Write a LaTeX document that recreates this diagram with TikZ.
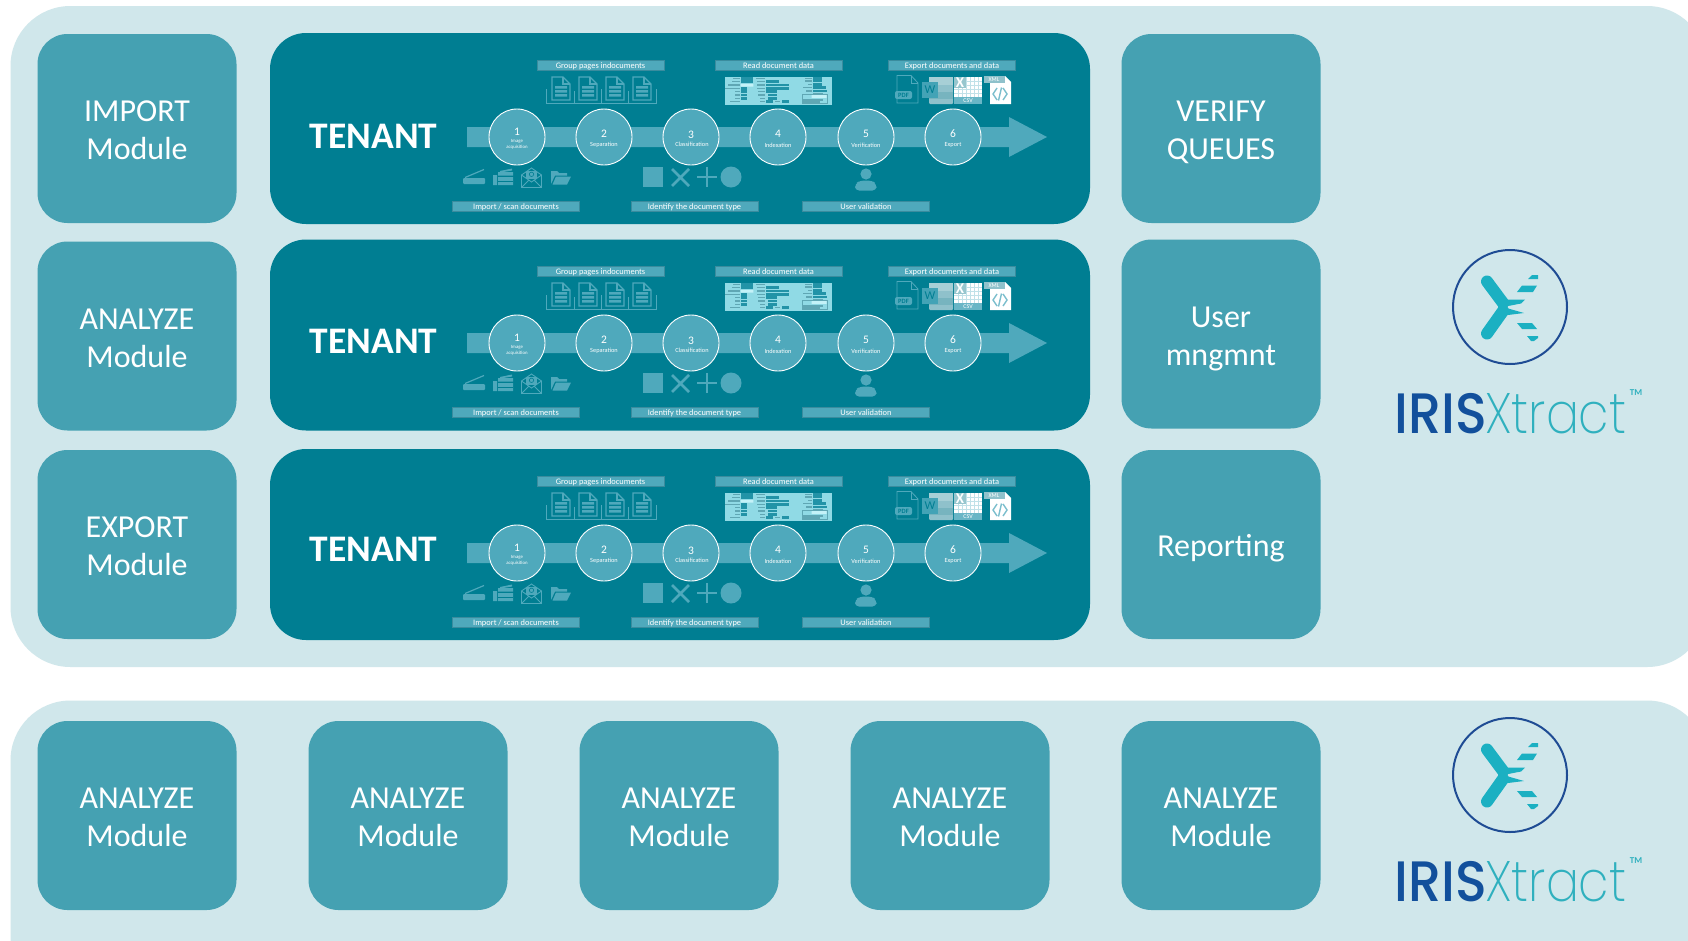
\documentclass[tikz,border=0pt]{standalone}
\usepackage{fontspec}
\setmainfont{Carlito}
\newfontfamily\logofont{Poppins Medium}
\newfontfamily\logolight{Poppins ExtraLight}
\definecolor{panelc}{HTML}{D0E7EB}
\definecolor{modc}{HTML}{45A1B2}
\definecolor{tenc}{HTML}{007E92}
\definecolor{barc}{HTML}{4FA9BC}
\definecolor{edgec}{HTML}{3A8C9E}
\definecolor{formc}{HTML}{90DAE5}
\definecolor{formd}{HTML}{0F879C}
\definecolor{forml}{HTML}{C4F2F8}
\definecolor{formg}{HTML}{5FA7B4}
\definecolor{logob}{HTML}{1F4C94}
\definecolor{irisc}{HTML}{12509C}
\definecolor{xtrc}{HTML}{2FB0BE}
\definecolor{markc}{HTML}{1BB0C2}
\newcommand\modtxt[2]{\strut #1\\\strut #2}
\tikzset{
  modbox/.style={fill=modc,rounded corners=30pt,minimum width=199pt,minimum height=189pt,inner sep=0pt},
  modtext/.style={text=white,align=center,inner sep=0pt,yshift=-4.5pt,font=\fontsize{32}{38}\selectfont},
  tenbox/.style={fill=tenc,rounded corners=36pt,minimum width=820pt,minimum height=191pt,inner sep=0pt},
  tentitle/.style={text=white,inner sep=0pt,font=\fontsize{37.5}{40}\selectfont\bfseries},
  stepc/.style={circle,fill=barc,draw=white,line width=.9pt,minimum size=56pt,inner sep=0pt},
  stepnum/.style={text=white,inner sep=0pt,font=\fontsize{11.5}{12}\selectfont},
  steptxt/.style={text=white,inner sep=0pt,align=center,font=\fontsize{6.3}{6.5}\selectfont},
  tagbox/.style={fill=barc,draw=edgec,line width=.6pt,minimum width=127pt,minimum height=10pt,inner sep=0pt,
    text=white,text height=6.5pt,text depth=.5pt,font=\fontsize{8.4}{9}\selectfont},
  iconl/.style={draw=barc,line width=.9pt,fill=none},
  brack/.style={draw=barc,line width=.5pt,fill=none},
}
% page icon with folded corner
\newcommand\docicon[1]{%
  \begin{scope}[shift={(#1,77)}]
    \draw[iconl,line width=1.3pt] (0,0) -- (11,0) -- (18,7) -- (18,23) -- (0,23) -- cycle;
    \draw[iconl,line width=1.3pt] (11,0) -- (11,7) -- (18,7);
    \fill[barc] (3,9) rectangle (15,11.5) (3,13) rectangle (15,15.5) (3,17) rectangle (15,19.5);
  \end{scope}}
\newcommand\tenantrow[2]{%
\begin{scope}[shift={(0,#2)}]
  % arrow
  \fill[barc] (467,127) -- (1009,127) -- (1009,117) -- (1047,137) -- (1009,157) -- (1009,147) -- (467,147) -- cycle;
  % steps
  \node[stepc] (#1s1) at (517,137) {};
  \node[stepc] (#1s2) at (604,137) {};
  \node[stepc] (#1s3) at (691,137) {};
  \node[stepc] (#1s4) at (778,137) {};
  \node[stepc] (#1s5) at (866,137) {};
  \node[stepc] (#1s6) at (953,137) {};
  \node[stepnum] (#1n1) at (517,131.5) {1};
  \node[stepnum] (#1n2) at (604,133.5) {2};
  \node[stepnum] (#1n3) at (691,134.5) {3};
  \node[stepnum] (#1n4) at (778,133.5) {4};
  \node[stepnum] (#1n5) at (866,133.5) {5};
  \node[stepnum] (#1n6) at (953,133.5) {6};
  \node[steptxt,font=\fontsize{4.8}{6}\selectfont] (#1t1) at (517,144.5) {Image\\acquisition};
  \node[steptxt] (#1t2) at (604,145) {Separation};
  \node[steptxt] (#1t3) at (692,144) {Classification};
  \node[steptxt] (#1t4) at (778,145) {Indexation};
  \node[steptxt] (#1t5) at (866,145) {Verification};
  \node[steptxt] (#1t6) at (953,145) {Export};
  % tags
  \node[tagbox] (#1g1) at (600.5,65) {Group pages indocuments};
  \node[tagbox] (#1g2) at (778.5,65) {Read document data};
  \node[tagbox] (#1g3) at (952,65) {Export documents and data};
  \node[tagbox] (#1g4) at (516,206) {Import / scan documents};
  \node[tagbox] (#1g5) at (694.5,206) {Identify the document type};
  \node[tagbox] (#1g6) at (866,206) {User validation};
  % pages
  \docicon{552}\docicon{579}\docicon{606}\docicon{633}
  \draw[brack] (546.5,89) -- (546.5,103.5) -- (656.5,103.5) -- (656.5,89);
  \draw[brack] (574,91) -- (574,103.5) (601,89) -- (601,103.5) (628,91) -- (628,103.5);
  % form
  \fill[formc] (725,77) rectangle (832,105);
  \foreach \a/\b/\c in {40/60/25,35/60/35,25/60/45,15/60/55,45/60/65,45/60/75,45/60/85,30/60/95,108/135/25,110/135/35,110/135/45,110/135/55,115/135/65,115/135/75,120/135/85,120/135/95,165/180/95,255/275/25,255/275/33,265/275/43,250/275/53,258/275/63,280/310/72,248/310/90,248/300/96}
    {\fill[formg] (720+\a/3,70+\c/3-.6) rectangle (720+\b/3,70+\c/3+.6);}
  \foreach \a/\b/\c in {62/100/25,62/100/35,62/82/56,62/82/65,62/82/75,62/82/85,138/178/35,138/208/45,138/208/55,138/170/65,143/170/75,143/170/85,138/160/95,185/208/95,280/305/25,280/305/33,280/305/43,280/318/53,280/322/63}
    {\fill[formd!85!formc] (720+\a/3,70+\c/3-1.2) rectangle (720+\b/3,70+\c/3+1.2);}
  \fill[forml] (740.7,84) rectangle (753.3,86.6) (811.7,95) rectangle (826.7,97.8);
  \draw[formg,line width=.3pt] (801.7,94) rectangle (827.3,103.3);
  % export icons
  \draw[iconl,line width=.8pt] (897,75.5) -- (911,75.5) -- (918,83) -- (918,103) -- (897,103) -- cycle;
  \draw[iconl,line width=.8pt] (911,75.5) -- (911,83) -- (918,83);
  \node[fill=barc,rounded corners=2pt,minimum width=17pt,minimum height=8pt,inner sep=0pt,text=tenc,font=\fontsize{6.5}{7}\selectfont\bfseries] (#1pdf) at (903.5,95) {PDF};
  \fill[rounded corners=1pt,fill=formg!70!white] (929,77) rectangle (953,104);
  \fill[fill=formg!55!white] (929,77) rectangle (953,85);
  \fill[fill=formg!85!white] (929,92) rectangle (953,99);
  \node[fill=barc!85!tenc,minimum width=16pt,minimum height=16pt,inner sep=0pt,text=tenc,font=\fontsize{12}{12}\selectfont] (#1word) at (930,90) {W};
  \fill[white] (954,77) rectangle (982,104);
  \foreach \gx in {958,962,...,980} {\draw[barc!35!white,line width=.25pt] (\gx,77) -- (\gx,97);}
  \foreach \gy in {81,85,...,96} {\draw[barc!35!white,line width=.25pt] (954,\gy) -- (982,\gy);}
  \fill[fill=formg!65!white] (954,77) rectangle (966,88);
  \node[text=white,inner sep=0pt,font=\fontsize{15}{15}\selectfont\bfseries] (#1xl) at (960,83) {X};
  \node[fill=barc!85!white,minimum width=28pt,minimum height=7pt,inner sep=0pt,text=white,font=\fontsize{6}{6}\selectfont] (#1csv) at (968,100.5) {CSV};
  \fill[white] (990,76) -- (1005,76) -- (1011,82) -- (1011,104) -- (990,104) -- cycle;
  \node[fill=formg!70!white,minimum width=21pt,minimum height=7pt,inner sep=0pt,text=white,font=\fontsize{6}{6}\selectfont] (#1xml) at (994,79.5) {XML};
  \draw[barc!75!white,line width=1.4pt] (997,88) -- (993,94) -- (997,100) (1003,88) -- (1007,94) -- (1003,100) (1001.5,87.5) -- (998.5,100.5);
  % source icons
  \fill[barc,rounded corners=1pt] (463,178) rectangle (485,184);
  \draw[barc,line width=1.2pt] (465,177.5) -- (484,169.5);
  \fill[barc] (493,175) rectangle (497,185) (498,172) rectangle (513,175.5) (498,177) rectangle (513,185);
  \fill[barc] (500,171) -- (512,168.5) -- (512,170.5) -- (500,172.5) -- cycle;
  \draw[tenc,line width=.5pt] (498,181) -- (513,181);
  \draw[iconl,line width=.9pt] (521.5,175) -- (531.5,168) -- (541.5,175) -- (541.5,187.5) -- (521.5,187.5) -- cycle;
  \draw[iconl,line width=.9pt] (521.5,175) -- (531.5,182) -- (541.5,175) (521.5,187.5) -- (529,180) (541.5,187.5) -- (534,180);
  \fill[barc] (526,170.5) rectangle (537,178.5);
  \draw[tenc,line width=.6pt] (531.5,174.3) circle (2.2pt);
  \fill[barc] (551,171) -- (557,171) -- (559,173) -- (567,173) -- (567,175.5) -- (555,175.5) -- (551,184) -- cycle;
  \fill[barc] (556,176.5) -- (571,176.5) -- (567,184.5) -- (552.5,184.5) -- cycle;
  % type icons
  \fill[barc] (643,167) rectangle (663,187);
  \draw[barc,line width=2.6pt] (672,169) -- (689,186) (689,169) -- (672,186);
  \draw[barc,line width=2.6pt] (707,167) -- (707,187) (697,177) -- (717,177);
  \fill[barc] (731,177) circle (10.5pt);
  % user
  \fill[barc] (866,174) circle (5.6pt);
  \fill[barc,rounded corners=4pt] (855,190.5) -- (855,184) -- (860,180.5) -- (872,180.5) -- (876.5,184) -- (876.5,190.5) -- cycle;
\end{scope}}
\newcommand\irislogo[2]{%
\begin{scope}[shift={(0,#2)}]
  \draw[logob,line width=2pt] (1510,307) circle (57pt);
  \draw[markc,line width=12pt,line cap=round] (1487,281.5) -- (1503,303);
  \draw[markc,line width=12pt,line cap=round] (1487,333.5) -- (1503,311);
  \fill[markc] (1498,299.5) -- (1525,299.5) -- (1521,303.5) -- (1503,307) -- (1524,313) -- (1508,315) -- (1498,314) -- cycle;
  \fill[markc] (1532,275) -- (1538,275) -- (1538,279) -- (1528,279) -- cycle;
  \fill[markc] (1522,285.5) -- (1537,285.5) -- (1533,292) -- (1517,292) -- cycle;
  \fill[markc] (1517,323) -- (1532,323) -- (1537,329) -- (1522,329) -- cycle;
  \fill[markc] (1527,336) -- (1538,336) -- (1538,338) -- (1534,341) -- (1531,341) -- cycle;
  \node[text=irisc,inner sep=0pt,anchor=base west,font=\logofont\fontsize{57}{57}\selectfont] (#1iris) at (1394,433) {\scalebox{.92}[1]{IRIS}};
  \node[text=xtrc,inner sep=0pt,anchor=base west,font=\logolight\fontsize{57}{57}\selectfont] (#1xtr) at (1485,433) {\scalebox{.86}[1]{Xtract}};
  \node[text=xtrc,inner sep=0pt,anchor=center,font=\fontsize{9}{9}\selectfont\bfseries] (#1tm) at (1636,393) {TM};
\end{scope}}
\begin{document}
\begin{tikzpicture}[x=1pt,y=-1pt]
\useasboundingbox (0,0) rectangle (1688,940);
\clip (0,0) rectangle (1688,940);
\fill[white] (0,0) rectangle (1688,940);
\fill[panelc,rounded corners=60pt] (10.5,6) rectangle (1707,667);
\fill[panelc,rounded corners=60pt] (10.5,700.5) rectangle (1707,1000);
\node[modbox] (m1) at (137,128.5) {};
\node[modbox] (m2) at (137,336) {};
\node[modbox] (m3) at (137,544.5) {};
\node[modbox] (r1) at (1221,128.5) {};
\node[modbox] (r2) at (1221,334) {};
\node[modbox] (r3) at (1221,544.5) {};
\node[modtext] (m1x) at (m1.center) {\modtxt{IMPORT}{Module}};
\node[modtext] (m2x) at (m2.center) {\modtxt{ANALYZE}{Module}};
\node[modtext] (m3x) at (m3.center) {\modtxt{EXPORT}{Module}};
\node[modtext] (r1x) at (r1.center) {\modtxt{VERIFY}{QUEUES}};
\node[modtext] (r2x) at (r2.center) {\modtxt{User}{mngmnt}};
\node[modtext] (r3x) at (r3.center) {\strut Reporting};
\node[tenbox] (t1) at (680,128.5) {};
\node[tenbox] (t2) at (680,335) {};
\node[tenbox] (t3) at (680,544.5) {};
\node[tentitle] (tt1) at (373.5,136) {TENANT};
\node[tentitle] (tt2) at (373.5,341.5) {TENANT};
\node[tentitle] (tt3) at (373.5,549.5) {TENANT};
\tenantrow{a}{0}
\tenantrow{b}{206}
\tenantrow{c}{416}
\node[modbox] (b1) at (137,815.5) {};
\node[modbox] (b2) at (408,815.5) {};
\node[modbox] (b3) at (679,815.5) {};
\node[modbox] (b4) at (950,815.5) {};
\node[modbox] (b5) at (1221,815.5) {};
\node[modtext] (b1x) at (b1.center) {\modtxt{ANALYZE}{Module}};
\node[modtext] (b2x) at (b2.center) {\modtxt{ANALYZE}{Module}};
\node[modtext] (b3x) at (b3.center) {\modtxt{ANALYZE}{Module}};
\node[modtext] (b4x) at (b4.center) {\modtxt{ANALYZE}{Module}};
\node[modtext] (b5x) at (b5.center) {\modtxt{ANALYZE}{Module}};
\irislogo{u}{0}
\irislogo{v}{468}
\end{tikzpicture}
\end{document}
